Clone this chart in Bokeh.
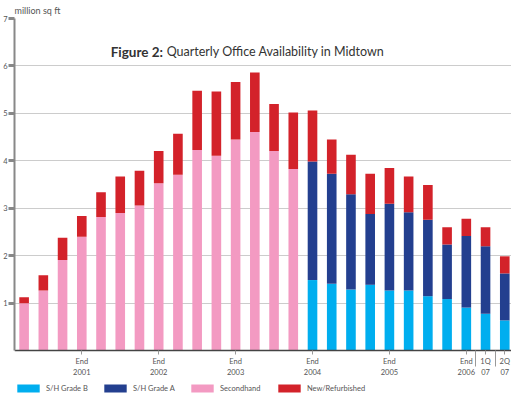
from bokeh.plotting import figure
from bokeh.models import Range1d, FixedTicker, Legend, LegendItem, Label
from bokeh.embed import file_html
from bokeh.resources import INLINE

# ---- data (million sq ft), quarterly Q1 2001 .. Q2 2007 ----
quarters = list(range(26))
grade_b = [0] * 15 + [1.49, 1.41, 1.29, 1.39, 1.27, 1.27, 1.15, 1.09, 0.91, 0.78, 0.64]
grade_a = [0] * 15 + [2.50, 2.32, 2.01, 1.49, 1.83, 1.65, 1.61, 1.15, 1.51, 1.42, 0.99]
secondhand = [1.00, 1.27, 1.91, 2.40, 2.82, 2.90, 3.06, 3.53, 3.71, 4.23, 4.11, 4.45, 4.61,
              4.21, 3.83] + [0] * 11
new_refurb = [0.13, 0.32, 0.47, 0.44, 0.52, 0.77, 0.73, 0.68, 0.86, 1.25, 1.35, 1.21, 1.25,
              0.99, 1.19, 1.07, 0.72, 0.83, 0.85, 0.75, 0.75, 0.73, 0.36, 0.36, 0.40, 0.36]

series = ["grade_b", "grade_a", "secondhand", "new_refurb"]
series_labels = ["S/H Grade B", "S/H Grade A", "Secondhand", "New/Refurbished"]
colors = ["#00aeef", "#233f8f", "#f39ac2", "#d3222a"]

tick_pos = [3, 7, 11, 15, 19, 23, 24, 25]
tick_labels = ["End\n2001", "End\n2002", "End\n2003", "End\n2004", "End\n2005",
               "End\n2006", "1Q\n07", "2Q\n07"]
separators = [23.5, 24.5]
y_ticks = [1, 2, 3, 4, 5, 6, 7]

FONT = "Lato"
GREY = "#555555"

data = dict(x=quarters, grade_b=grade_b, grade_a=grade_a,
            secondhand=secondhand, new_refurb=new_refurb)

p = figure(width=511, height=393, output_backend="svg", toolbar_location=None,
           x_range=Range1d(-0.5, 25.35), y_range=Range1d(-0.9, 7.0),
           min_border_left=0, min_border_right=0, min_border_top=14, min_border_bottom=0)

renderers = p.vbar_stack(series, x="x", width=0.5, color=colors, source=data,
                         line_color=None)

# title "million sq ft"
p.title.text = "million sq ft"
p.title.text_font = FONT
p.title.text_font_size = "9px"
p.title.text_font_style = "normal"
p.title.text_color = GREY
p.title.align = "left"
p.title.standoff = 5

# in-plot title
t1 = Label(x=4.5, y=6.3, text="Figure 2:", text_font=FONT, text_font_size="13.5px",
           text_font_style="bold", text_color="#333333", text_baseline="middle")
t2 = Label(x=4.5, y=6.3, x_offset=56, text="Quarterly Office Availability in Midtown",
           text_font=FONT, text_font_size="12.5px", text_color="#333333",
           text_baseline="middle")
p.add_layout(t1)
p.add_layout(t2)

# x axis drawn at the baseline, inside the frame
p.xaxis.fixed_location = 0
p.xaxis.ticker = FixedTicker(ticks=tick_pos, minor_ticks=separators)
p.xaxis.major_label_overrides = {t: l for t, l in zip(tick_pos, tick_labels)}
p.xaxis.major_label_text_font = FONT
p.xaxis.major_label_text_font_size = "7.5px"
p.xaxis.major_label_text_color = GREY
p.xaxis.major_label_standoff = -10
p.xaxis.major_tick_in = 0
p.xaxis.major_tick_out = 4
p.xaxis.major_tick_line_color = "#999999"
p.xaxis.minor_tick_in = 0
p.xaxis.minor_tick_out = 16
p.xaxis.minor_tick_line_color = "#999999"
p.xaxis.axis_line_color = "#444444"
p.xaxis.axis_line_width = 1.5

p.yaxis.ticker = FixedTicker(ticks=y_ticks)
p.yaxis.bounds = (0, 7)
p.yaxis.major_label_text_font = FONT
p.yaxis.major_label_text_font_size = "7.5px"
p.yaxis.major_label_text_color = GREY
p.yaxis.major_label_standoff = 1
p.yaxis.major_tick_in = 0
p.yaxis.major_tick_out = 6
p.yaxis.major_tick_line_width = 3
p.yaxis.major_tick_line_color = "#888888"
p.yaxis.minor_tick_line_color = None
p.yaxis.axis_line_color = "#888888"
p.yaxis.axis_line_width = 2

p.xgrid.grid_line_color = None
p.ygrid.grid_line_color = "#cccccc"
p.ygrid.grid_line_width = 1.2
p.outline_line_color = None

legend = Legend(items=[LegendItem(label=l, renderers=[r]) for l, r in zip(series_labels, renderers)],
                orientation="horizontal", location=(0, 0),
                glyph_width=28, glyph_height=10, label_width=50, label_standoff=4,
                spacing=5, padding=0, margin=0,
                label_text_font=FONT, label_text_font_size="7.5px",
                label_text_color=GREY, border_line_color=None,
                background_fill_alpha=0)
p.add_layout(legend)

open("out.html", "w").write(file_html(p, INLINE))
